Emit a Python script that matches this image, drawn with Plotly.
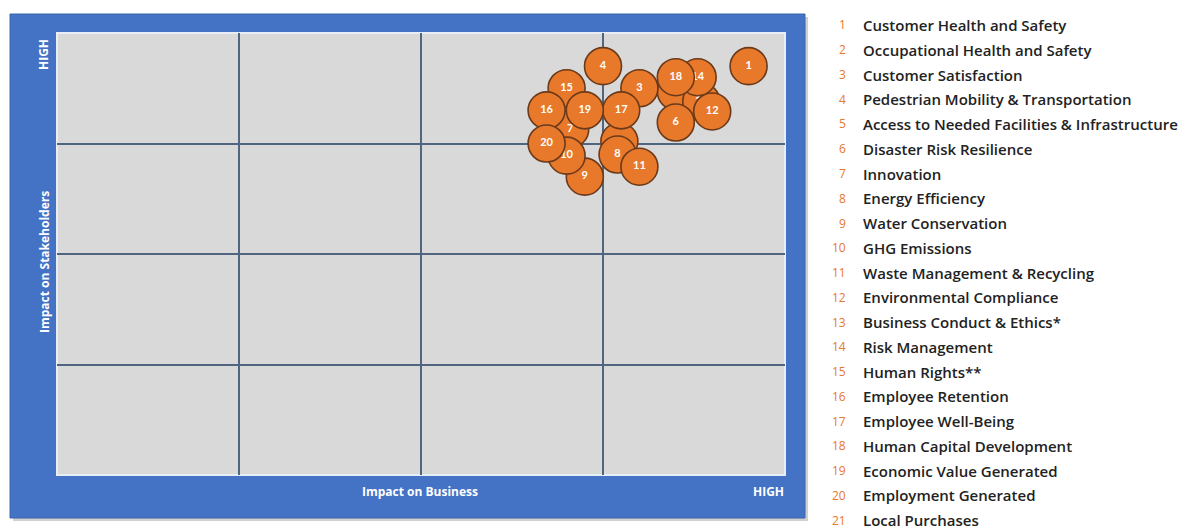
import plotly.graph_objects as go

# Bubble data (listed in drawing order; later ones are drawn on top)
ids = [2, 13, 5, 21, 1, 3, 4, 6, 7, 8, 9, 10, 11, 12, 14, 15, 16, 17, 18, 19, 20]
impact_business = [3.40, 3.54, 3.09, 2.80, 3.80, 3.20, 3.00, 3.40, 2.82, 3.08, 2.90,
                   2.80, 3.20, 3.60, 3.52, 2.80, 2.69, 3.10, 3.40, 2.90, 2.69]
impact_stakeholders = [3.47, 3.38, 3.02, 3.38, 3.70, 3.50, 3.70, 3.19, 3.13, 2.90, 2.70,
                       2.89, 2.79, 3.29, 3.60, 3.50, 3.30, 3.30, 3.60, 3.30, 3.00]

# Legend list
topic_numbers = list(range(1, 22))
topic_names = [
    "Customer Health and Safety",
    "Occupational Health and Safety",
    "Customer Satisfaction",
    "Pedestrian Mobility & Transportation",
    "Access to Needed Facilities & Infrastructure",
    "Disaster Risk Resilience",
    "Innovation",
    "Energy Efficiency",
    "Water Conservation",
    "GHG Emissions",
    "Waste Management & Recycling",
    "Environmental Compliance",
    "Business Conduct & Ethics*",
    "Risk Management",
    "Human Rights**",
    "Employee Retention",
    "Employee Well-Being",
    "Human Capital Development",
    "Economic Value Generated",
    "Employment Generated",
    "Local Purchases",
]

W, H = 1200, 530
ORANGE = "#E8782A"
BLUE = "#4472C4"
GRID = "#4F6580"

def px(x):
    return x / W

def py(y):
    return 1 - y / H

fig = go.Figure()

# one trace per bubble so that overlapping bubbles hide the labels beneath them
for i, xv, yv in zip(ids, impact_business, impact_stakeholders):
    fig.add_trace(go.Scatter(
        x=[xv], y=[yv],
        mode="markers+text",
        text=[str(i)],
        textposition="middle center",
        textfont=dict(family="Lato", size=11, color="white", weight="bold"),
        marker=dict(size=37, color=ORANGE, line=dict(color="#6B3A1A", width=1.6), opacity=1),
        hoverinfo="text",
        showlegend=False,
        cliponaxis=False,
    ))

shapes = [
    # shadow
    dict(type="rect", xref="paper", yref="paper", x0=px(13), x1=px(808), y0=py(521), y1=py(17),
         fillcolor="#D0D0D0", line=dict(width=0), layer="below"),
    # blue frame
    dict(type="rect", xref="paper", yref="paper", x0=px(10), x1=px(805), y0=py(518), y1=py(14),
         fillcolor=BLUE, line=dict(color="#3C64AE", width=1), layer="below"),
    # gray plot area
    dict(type="rect", xref="paper", yref="paper", x0=px(57), x1=px(785), y0=py(475), y1=py(33),
         fillcolor="#D9D9D9", line=dict(color="#E8EEF6", width=2), layer="below"),
]

lab_font = dict(family="Open Sans", size=12, color="white", weight="bold")
annotations = [
    dict(text="HIGH", x=px(44), y=py(55), xref="paper", yref="paper", textangle=-90,
         xanchor="center", yanchor="middle", showarrow=False, font=lab_font),
    dict(text="Impact on Stakeholders", x=px(44), y=py(262), xref="paper", yref="paper", textangle=-90,
         xanchor="center", yanchor="middle", showarrow=False, font=lab_font),
    dict(text="Impact on Business", x=px(420), y=py(491), xref="paper", yref="paper",
         xanchor="center", yanchor="middle", showarrow=False, font=lab_font),
    dict(text="HIGH", x=px(786), y=py(491), xref="paper", yref="paper", xanchor="right",
         yanchor="middle", showarrow=False, font=lab_font),
]

row0, step = 25, 24.75
for i, (n, name) in enumerate(zip(topic_numbers, topic_names)):
    yy = py(row0 + i * step)
    annotations.append(dict(text=str(n), x=px(848), y=yy, xref="paper", yref="paper",
                            xanchor="right", yanchor="middle", showarrow=False,
                            font=dict(family="Open Sans", size=12, color=ORANGE)))
    annotations.append(dict(text=name, x=px(861), y=yy, xref="paper", yref="paper",
                            xanchor="left", yanchor="middle", showarrow=False,
                            font=dict(family="Open Sans", size=15, color="#222222", weight=600)))

fig.update_layout(
    width=W, height=H,
    margin=dict(l=0, r=0, t=0, b=0),
    paper_bgcolor="white",
    plot_bgcolor="#D9D9D9",
    shapes=shapes,
    annotations=annotations,
    xaxis=dict(domain=[px(57), px(785)], range=[0, 4], dtick=1, tick0=0,
               showticklabels=False, showgrid=True, gridcolor=GRID, gridwidth=1.5,
               zeroline=False, showline=False, ticks="", fixedrange=True),
    yaxis=dict(domain=[py(475), py(33)], range=[0, 4], dtick=1, tick0=0,
               showticklabels=False, showgrid=True, gridcolor=GRID, gridwidth=1.5,
               zeroline=False, showline=False, ticks="", fixedrange=True),
)

fig.write_html("out.html")
